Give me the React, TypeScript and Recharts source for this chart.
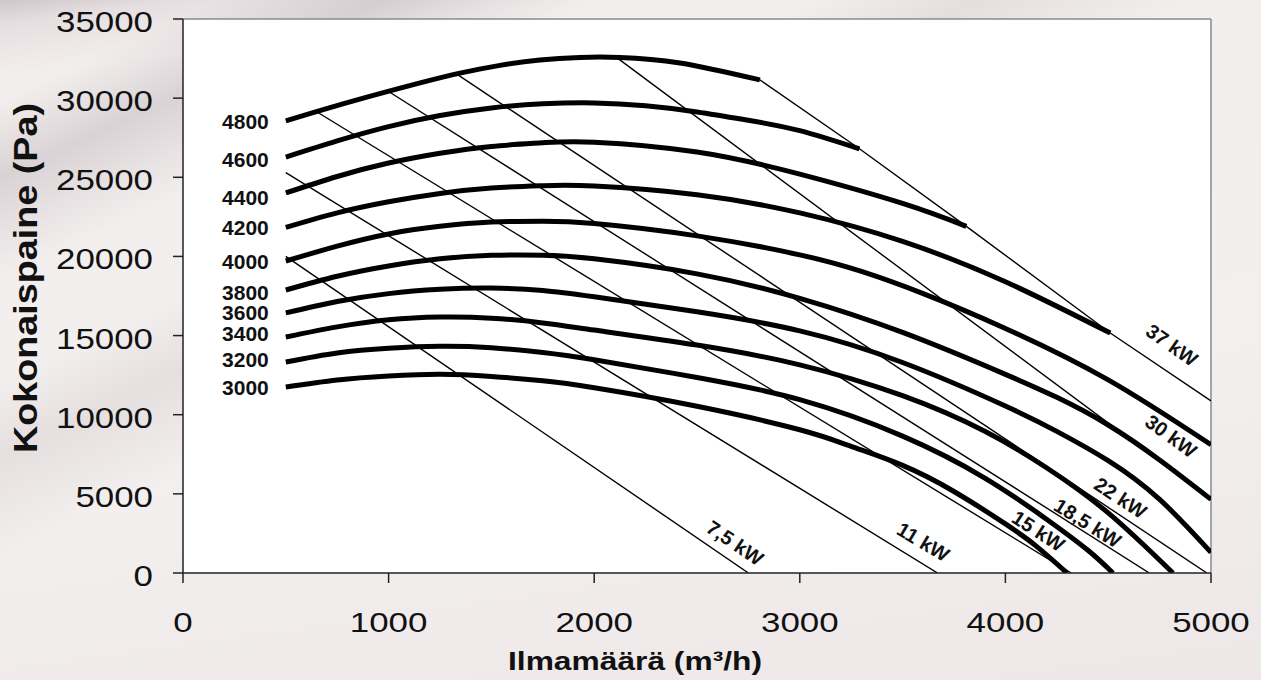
import React from 'react';
import { LineChart, Line, XAxis, YAxis, ReferenceArea, ReferenceLine, ReferenceDot } from 'recharts';

// axes
const flowTicks = [0, 1000, 2000, 3000, 4000, 5000];
const pressureTicks = [0, 5000, 10000, 15000, 20000, 25000, 30000, 35000];

// fan curves, [ilmamäärä m3/h, kokonaispaine Pa]
const rpm3000 = [[500, 11750], [750, 12200], [1000, 12450], [1250, 12560], [1500, 12420], [1750, 12140], [2000, 11700], [2500, 10530], [3000, 9050], [3250, 8000], [3500, 6800], [3750, 5150], [4000, 3100], [4150, 1700], [4300, 0]];
const rpm3200 = [[500, 13330], [750, 13900], [1000, 14200], [1250, 14320], [1500, 14230], [1750, 13930], [2000, 13470], [2500, 12350], [3000, 10950], [3500, 8650], [3900, 6000], [4200, 3400], [4400, 1450], [4523, 0]];
const rpm3400 = [[500, 14910], [750, 15550], [1000, 16000], [1250, 16170], [1500, 16100], [1750, 15800], [2000, 15350], [2500, 14400], [3000, 13150], [3500, 11200], [3900, 8950], [4200, 6650], [4500, 3800], [4815, 0]];
const rpm3600 = [[500, 16430], [750, 17150], [1000, 17650], [1250, 17920], [1500, 18000], [1750, 17850], [2000, 17450], [2500, 16500], [3000, 15300], [3500, 13300], [4000, 10550], [4250, 8950], [4500, 7100], [4750, 4650], [5000, 1300]];
const rpm3800 = [[500, 17880], [750, 18750], [1000, 19400], [1250, 19850], [1500, 20070], [1750, 20080], [2000, 19850], [2500, 18900], [3000, 17350], [3500, 15200], [4000, 12550], [4500, 9350], [5000, 4650]];
const rpm4000 = [[500, 19710], [750, 20650], [1000, 21420], [1250, 21900], [1500, 22170], [1750, 22220], [2000, 22080], [2500, 21300], [3000, 20100], [3300, 19050], [3600, 17650], [4000, 15450], [4500, 12200], [5000, 8100]];
const rpm4200 = [[500, 21830], [750, 22750], [1000, 23450], [1250, 23980], [1500, 24320], [1750, 24470], [2000, 24450], [2500, 23900], [3000, 22750], [3500, 20950], [4000, 18400], [4510, 15160]];
const rpm4400 = [[500, 24010], [750, 25050], [1000, 25900], [1250, 26520], [1500, 26950], [1750, 27180], [2000, 27220], [2500, 26600], [3000, 25200], [3500, 23350], [3810, 21900]];
const rpm4600 = [[500, 26280], [750, 27300], [1000, 28200], [1250, 28900], [1500, 29380], [1750, 29640], [2000, 29700], [2250, 29520], [2500, 29130], [2750, 28600], [3000, 27950], [3290, 26800]];
const rpm4800 = [[500, 28560], [812, 29760], [1153, 30960], [1347, 31580], [1542, 32070], [1736, 32410], [1931, 32570], [2125, 32570], [2417, 32220], [2806, 31150]];

const rpmNames = ['3000', '3200', '3400', '3600', '3800', '4000', '4200', '4400', '4600', '4800'];
const rpmCurves = [rpm3000, rpm3200, rpm3400, rpm3600, rpm3800, rpm4000, rpm4200, rpm4400, rpm4600, rpm4800];
const rpmLabelQ = 500;
const rpmLabelP = [11750, 13460, 15100, 16430, 17750, 19650, 21800, 23750, 26100, 28500];

// power lines
const kw75 = [[500, 20000], [2750, 0]];
const kw11 = [[500, 25300], [3670, 0]];
const kw15 = [[650, 29140], [4320, 0]];
const kw185 = [[1000, 30420], [4700, 0]];
const kw22 = [[1330, 31530], [4980, 0]];
const kw30 = [[2110, 32560], [5000, 4650]];
const kw37 = [[2806, 31150], [3290, 26800], [3810, 21900], [4510, 15160], [5000, 10870]];

const kwNames = ['7,5 kW', '11 kW', '15 kW', '18,5 kW', '22 kW', '30 kW', '37 kW'];
const kwLines = [kw75, kw11, kw15, kw185, kw22, kw30, kw37];
const kwLabelQ = [2685, 3600, 4160, 4400, 4560, 4805, 4810];
const kwLabelP = [1900, 1960, 2650, 3160, 4740, 8650, 14400];
const kwAngles = [34, 31, 33, 32, 33, 36, 35];

const font = 'Liberation Sans, Arial, sans-serif';
const toRows = (pts: number[][]) => pts.map(([q, p]) => ({ q, p }));

const YTick = (props: any) => {
  const { x, y, payload } = props;
  const s = String(payload.value);
  return (
    <text x={x - 20} y={y + 13} textAnchor="end" fontSize={29} fontFamily={font} fill="#111"
      textLength={s.length * 19.4} lengthAdjust="spacingAndGlyphs">{s}</text>
  );
};

const XTick = (props: any) => {
  const { x, y, payload } = props;
  const s = String(payload.value);
  return (
    <text x={x} y={y + 49} textAnchor="middle" fontSize={27} fontFamily={font} fill="#111"
      textLength={s.length * 19.4} lengthAdjust="spacingAndGlyphs">{s}</text>
  );
};

export default function App() {
  return (
    <div style={{
      position: 'fixed', left: 0, top: 0, width: 1261, height: 680, overflow: 'hidden',
      background: 'linear-gradient(172deg, #cfc6cb 0%, #e6dfe1 3%, #f3eeee 9%, #f4efef 60%, #ede7e8 100%)',
    }}>
      <div style={{
        position: 'absolute', left: 0, top: 0, width: 1261, height: 680,
        background: 'linear-gradient(155deg, rgba(0,0,0,0) 8%, rgba(150,140,148,0.28) 14%, rgba(0,0,0,0) 22%, rgba(0,0,0,0) 30%, rgba(160,150,155,0.18) 36%, rgba(0,0,0,0) 44%)',
      }} />
      <div style={{ position: 'absolute', left: 0, top: 0 }}>
        <LineChart width={1261} height={680} margin={{ top: 19, right: 50, left: 0, bottom: 0 }}>
          <XAxis dataKey="q" type="number" domain={[0, 5000]} ticks={flowTicks} allowDataOverflow
            height={107} tickSize={10} tickMargin={0} tick={<XTick />}
            axisLine={{ stroke: '#222', strokeWidth: 1.5 }} tickLine={{ stroke: '#222', strokeWidth: 1.5 }}
            label={(p: any) => {
              const vb = p.viewBox;
              return (
                <text x={vb.x + vb.width / 2 - 62} y={670} textAnchor="middle" fontSize={26} fontWeight="bold"
                  fontFamily={font} fill="#111" textLength={254} lengthAdjust="spacingAndGlyphs">Ilmamäärä (m³/h)</text>
              );
            }} />
          <YAxis type="number" domain={[0, 35000]} ticks={pressureTicks} allowDataOverflow
            width={183} tickSize={10} tickMargin={0} tick={<YTick />}
            axisLine={{ stroke: '#222', strokeWidth: 1.5 }} tickLine={{ stroke: '#222', strokeWidth: 1.5 }}
            label={() => (
              <text x={37} y={278} transform="rotate(-90, 37, 278)" textAnchor="middle" fontSize={33}
                fontWeight="bold" fontFamily={font} fill="#111" textLength={350} lengthAdjust="spacingAndGlyphs">Kokonaispaine (Pa)</text>
            )} />
          <ReferenceArea x1={0} x2={5000} y1={0} y2={35000} fill="#ffffff" fillOpacity={1} stroke="none" />
          <ReferenceLine y={35000} stroke="#8a8a8a" strokeWidth={1.5} />
          <ReferenceLine x={5000} stroke="#8a8a8a" strokeWidth={1.5} />
          {kwLines.map((pts, i) => (
            <Line key={'kw' + i} data={toRows(pts)} dataKey="p" type="linear" stroke="#000" strokeWidth={1.4}
              dot={false} activeDot={false} isAnimationActive={false} />
          ))}
          {rpmCurves.map((pts, i) => (
            <Line key={'rpm' + i} data={toRows(pts)} dataKey="p" type="natural" stroke="#000" strokeWidth={5}
              dot={false} activeDot={false} isAnimationActive={false} />
          ))}
          {rpmNames.map((name, i) => (
            <ReferenceDot key={'rl' + i} x={rpmLabelQ} y={rpmLabelP[i]} r={1}
              shape={(p: any) => (
                <text x={p.cx - 17} y={p.cy} dy={7.5} textAnchor="end" fontSize={21} fontWeight="bold"
                  fontFamily={font} fill="#111">{name}</text>
              )} />
          ))}
          {kwNames.map((name, i) => (
            <ReferenceDot key={'kl' + i} x={kwLabelQ[i]} y={kwLabelP[i]} r={1}
              shape={(p: any) => (
                <text x={p.cx} y={p.cy} dy={7} textAnchor="middle" fontSize={20} fontWeight="bold"
                  fontFamily={font} fill="#111" transform={`rotate(${kwAngles[i]}, ${p.cx}, ${p.cy})`}>{name}</text>
              )} />
          ))}
        </LineChart>
      </div>
    </div>
  );
}
